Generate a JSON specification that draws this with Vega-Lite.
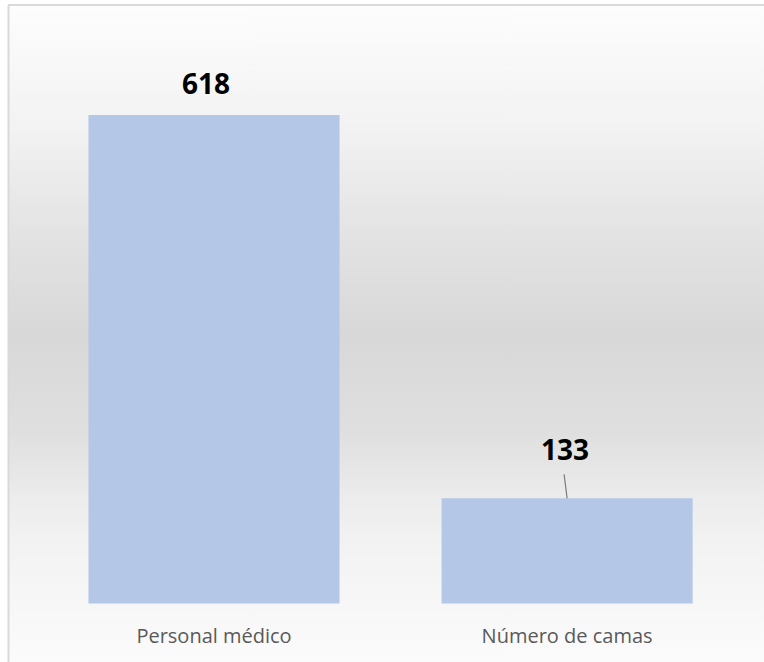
{
  "$schema": "https://vega.github.io/schema/vega-lite/v6.json",
  "width": 756,
  "height": 657,
  "autosize": "none",
  "padding": {"left": 8, "top": 5, "right": 0, "bottom": 0},
  "background": "#ffffff",
  "config": {
    "view": {
      "stroke": null,
      "fill": {
        "gradient": "linear",
        "x1": 0, "y1": 0, "x2": 0, "y2": 1,
        "stops": [
          {"offset": 0, "color": "#fdfdfd"},
          {"offset": 0.19, "color": "#f2f2f2"},
          {"offset": 0.35, "color": "#e3e3e3"},
          {"offset": 0.5, "color": "#d8d8d8"},
          {"offset": 0.65, "color": "#dfdfdf"},
          {"offset": 0.75, "color": "#ececec"},
          {"offset": 0.83, "color": "#f3f3f3"},
          {"offset": 1, "color": "#fbfbfb"}
        ]
      }
    }
  },
  "data": {
    "values": [
      {"categoria": "Personal médico", "valor": 618},
      {"categoria": "Número de camas", "valor": 133}
    ]
  },
  "encoding": {
    "x": {
      "field": "categoria",
      "type": "nominal",
      "sort": null,
      "scale": {"paddingInner": 0.289, "paddingOuter": 0.215, "align": 0.53},
      "axis": {
        "title": null,
        "domain": false,
        "ticks": false,
        "labelAngle": 0,
        "labelFont": "Open Sans",
        "labelFontSize": 20,
        "labelColor": "#595959",
        "labelBaseline": "alphabetic",
        "labelPadding": 0,
        "offset": -20
      }
    },
    "y": {
      "field": "valor",
      "type": "quantitative",
      "scale": {"domain": [-74, 757], "nice": false, "zero": false},
      "axis": {
        "title": null,
        "labels": false,
        "ticks": false,
        "grid": false,
        "domain": true,
        "domainColor": "#d9d9d9",
        "domainWidth": 2
      }
    }
  },
  "layer": [
    {
      "mark": {"type": "rule", "color": "#d9d9d9", "strokeWidth": 2},
      "encoding": {"y": {"datum": 757}, "x": null}
    },
    {
      "mark": {"type": "bar", "color": "#b4c7e7"},
      "encoding": {"y2": {"datum": 0}}
    },
    {
      "transform": [{"filter": "datum.categoria === 'Personal médico'"}],
      "mark": {"type": "text", "font": "Open Sans", "fontWeight": "bold", "fontSize": 28, "color": "#000000", "baseline": "alphabetic", "dy": -21, "dx": -8},
      "encoding": {"text": {"field": "valor", "type": "quantitative"}}
    },
    {
      "transform": [{"filter": "datum.categoria === 'Número de camas'"}],
      "mark": {"type": "text", "font": "Open Sans", "fontWeight": "bold", "fontSize": 28, "color": "#000000", "baseline": "alphabetic", "dy": -38, "dx": -2},
      "encoding": {"text": {"field": "valor", "type": "quantitative"}}
    },
    {
      "transform": [{"filter": "datum.categoria === 'Número de camas'"}],
      "mark": {"type": "rule", "color": "#7f7f7f", "strokeWidth": 1.2, "x2Offset": -3, "y2Offset": -24},
      "encoding": {"y2": {"field": "valor"}, "x2": {"field": "categoria", "type": "nominal"}}
    }
  ]
}
